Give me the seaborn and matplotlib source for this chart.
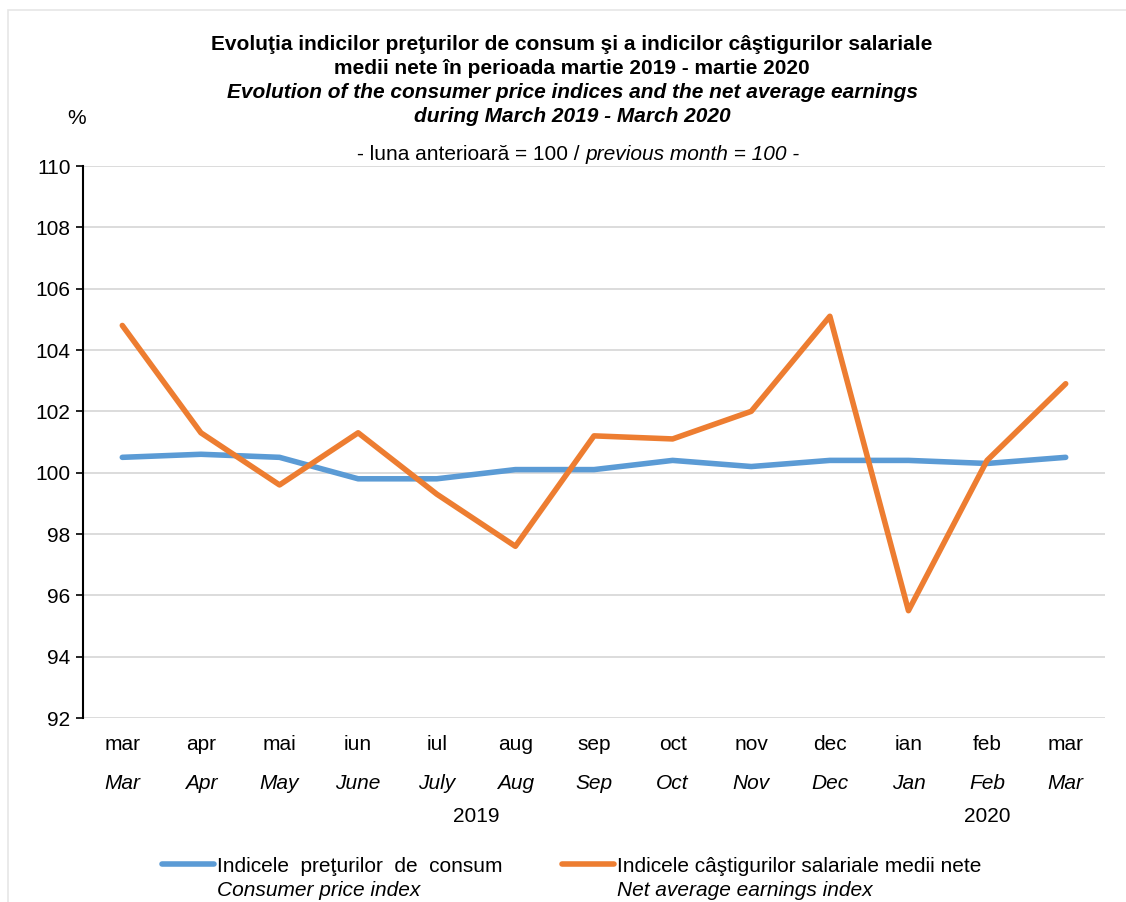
import pandas as pd
import seaborn as sns
import matplotlib.pyplot as plt
from matplotlib.patches import Rectangle

# Lunile martie 2019 - martie 2020
months_ro = ['mar', 'apr', 'mai', 'iun', 'iul', 'aug', 'sep', 'oct', 'nov', 'dec', 'ian', 'feb', 'mar']
months_en = ['Mar', 'Apr', 'May', 'June', 'July', 'Aug', 'Sep', 'Oct', 'Nov', 'Dec', 'Jan', 'Feb', 'Mar']

# Indici, luna anterioara = 100
cpi = [100.5, 100.6, 100.5, 99.8, 99.8, 100.1, 100.1, 100.4, 100.2, 100.4, 100.4, 100.3, 100.5]
earnings = [104.8, 101.3, 99.6, 101.3, 99.3, 97.6, 101.2, 101.1, 102.0, 105.1, 95.5, 100.4, 102.9]

series_ro = ['Indicele  preţurilor  de  consum', 'Indicele câştigurilor salariale medii nete']
series_en = ['Consumer price index', 'Net average earnings index']
colors = ['#5B9BD5', '#ED7D31']

y_ticks = list(range(92, 111, 2))

df = pd.DataFrame({
    'idx': list(range(len(months_ro))) * 2,
    'value': cpi + earnings,
    'series': [series_ro[0]] * len(cpi) + [series_ro[1]] * len(earnings),
})

sns.set_style('white')
plt.rcParams['font.family'] = ['Liberation Sans', 'DejaVu Sans']
plt.rcParams['text.color'] = 'black'
plt.rcParams['ytick.color'] = 'black'
plt.rcParams['ytick.labelcolor'] = 'black'

FS = 15

fig = plt.figure(figsize=(11.26, 9.02), dpi=100)
ax = fig.add_axes([83 / 1126, 1 - 718 / 902, (1105 - 83) / 1126, (718 - 166) / 902])

sns.lineplot(data=df, x='idx', y='value', hue='series', palette=colors,
             linewidth=4, ax=ax, legend=False)

ax.set_xlim(-0.5, len(months_ro) - 0.5)
ax.set_ylim(92, 110)
ax.set_yticks(y_ticks)
ax.tick_params(axis='y', labelsize=FS, direction='out', length=5, width=1.2, color='black', left=True, pad=4)
ax.yaxis.grid(True, color='#d9d9d9', linewidth=1.3)
ax.set_axisbelow(True)
for s in ['top', 'right', 'bottom']:
    ax.spines[s].set_visible(False)
ax.spines['left'].set_color('black')
ax.spines['left'].set_linewidth(1.5)
ax.set_xlabel('')
ax.set_ylabel('')

# etichete axa x pe doua randuri
ax.set_xticks(range(len(months_ro)))
ax.set_xticklabels([])
ax.tick_params(axis='x', bottom=False)
trans = ax.get_xaxis_transform()
for i, (ro, en) in enumerate(zip(months_ro, months_en)):
    ax.text(i, -0.048, ro, transform=trans, ha='center', va='center', fontsize=FS)
    ax.text(i, -0.118, en, transform=trans, ha='center', va='center', fontsize=FS, style='italic')
ax.text(4.5, -0.178, '2019', transform=trans, ha='center', va='center', fontsize=FS)
ax.text(11, -0.178, '2020', transform=trans, ha='center', va='center', fontsize=FS)

# titlu
xc = 0.508
fig.text(xc, 1 - 45 / 902, 'Evoluţia indicilor preţurilor de consum şi a indicilor câştigurilor salariale',
         ha='center', va='center', fontsize=FS, weight='bold')
fig.text(xc, 1 - 69 / 902, 'medii nete în perioada martie 2019 - martie 2020',
         ha='center', va='center', fontsize=FS, weight='bold')
fig.text(xc, 1 - 93 / 902, 'Evolution of the consumer price indices and the net average earnings',
         ha='center', va='center', fontsize=FS, weight='bold', style='italic')
fig.text(xc, 1 - 116 / 902, 'during March 2019 - March 2020',
         ha='center', va='center', fontsize=FS, weight='bold', style='italic')
fig.text(0.52, 1 - 155 / 902, '- luna anterioară = 100 / ', ha='right', va='center', fontsize=FS)
fig.text(0.52, 1 - 155 / 902, 'previous month = 100 -', ha='left', va='center', fontsize=FS, style='italic')
fig.text(77 / 1126, 1 - 118 / 902, '%', ha='center', va='center', fontsize=FS)

# legenda
handles = [plt.Line2D([], [], color=c, linewidth=4) for c in colors]
leg = fig.legend(handles, series_ro, loc='center left', ncol=2, frameon=False,
                 bbox_to_anchor=(143 / 1126, 1 - 866 / 902), fontsize=FS,
                 handlelength=2.5, handletextpad=0.15, columnspacing=2.85)
fig.canvas.draw()
inv = fig.transFigure.inverted()
for t, en in zip(leg.get_texts(), series_en):
    bb = t.get_window_extent()
    x0, y0 = inv.transform((bb.x0, bb.y0))
    fig.text(x0, y0 - 25 / 902, en, ha='left', va='bottom', fontsize=FS, style='italic')

# chenar
fig.patches.append(Rectangle((8 / 1126, -0.1), 1.2, 1 - 10 / 902 + 0.1, transform=fig.transFigure,
                             fill=False, edgecolor='#e6e6e6', linewidth=1.2))

fig.savefig('out.png', dpi=100)
